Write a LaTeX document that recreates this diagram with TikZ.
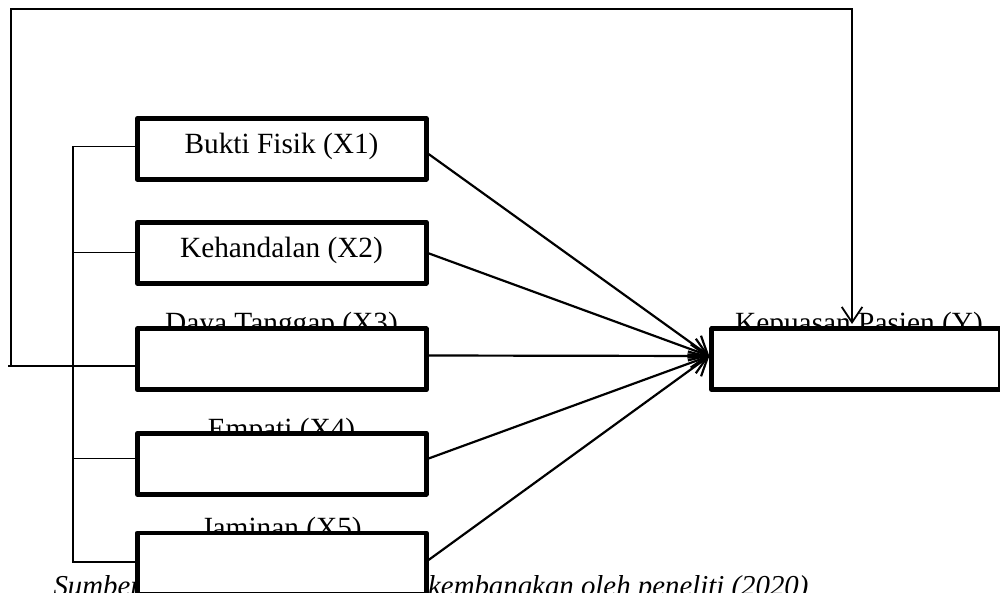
\documentclass[tikz,border=0pt]{standalone}
\usepackage{fontspec}
\setmainfont{Liberation Serif}
\usetikzlibrary{arrows.meta}
\begin{document}
\begin{tikzpicture}[x=0.01366cm,y=-0.01366cm,
  box/.style={draw,line width=1.9pt,fill=white,minimum width=3.944cm,minimum height=0.833cm,inner sep=0pt,line join=round},
  lbl/.style={anchor=base,inner sep=0pt,font=\fontsize{11.4}{13}\selectfont},
  thinline/.style={line width=0.5pt},
  fbline/.style={line width=0.6pt,line join=miter},
  arr/.style={line width=0.85pt,-{Straight Barb[length=6.5pt,width=9pt,line width=0.85pt]}}]
\useasboundingbox (0,0) rectangle (1000,592);
% labels partly hidden under boxes
\node[lbl] (l3) at (281.5,332) {Daya Tanggap (X3)};
\node[lbl] (l4) at (281.5,438) {Empati (X4)};
\node[lbl] (l5) at (281.5,537) {Jaminan (X5)};
\node[lbl] (ly) at (859,332) {Kepuasan Pasien (Y)};
\node[lbl,anchor=base west,font=\fontsize{11.2}{13}\selectfont\itshape] (cap) at (53,595) {Sumber: Kerangka pemikiran dikembangkan oleh peneliti (2020)};
% boxes
\node[box] (x1) at (281.7,148.8) {};
\node[box] (x2) at (281.7,252.7) {};
\node[box] (x3) at (281.7,359.3) {};
\node[box] (x4) at (281.7,463.7) {};
\node[box] (x5) at (281.7,563.5) {};
\node[box] (y) at (856.2,359.2) {};
\node[lbl] (l1) at (281.5,153) {Bukti Fisik (X1)};
\node[lbl] (l2) at (281.5,257) {Kehandalan (X2)};
% bracket on the left
\coordinate (sp) at (73,0);
\draw[thinline] (x1.west |- 0,146.7) -| (sp |- 0,562) -- (x5.west |- 0,562);
\draw[thinline] (sp |- 0,252.7) -- (x2.west |- 0,252.7);
\draw[thinline] (sp |- 0,458.7) -- (x4.west |- 0,458.7);
% feedback line
\coordinate (fs) at (8,366);
\coordinate (fa) at (11,366);
\coordinate (fb) at (11,9);
\coordinate (fc) at (852,9);
\draw[fbline] (x3.west |- fs) -- (fs);
\draw[fbline,-{Straight Barb[length=6pt,width=8pt,line width=0.7pt]}] (fa) -- (fb) -- (fc) -- (fc |- 0,324);
% arrows to Y
\draw[arr] (x1.east |- 0,154) -- (y.west |- 0,356);
\draw[arr] (x2.east |- 0,253.3) -- (y.west |- 0,356);
\draw[arr] (x3.east |- 0,355.5) -- (y.west |- 0,356);
\draw[arr] (x4.east |- 0,458.5) -- (y.west |- 0,356);
\draw[arr] (x5.east |- 0,560) -- (y.west |- 0,356);
\end{tikzpicture}
\end{document}
